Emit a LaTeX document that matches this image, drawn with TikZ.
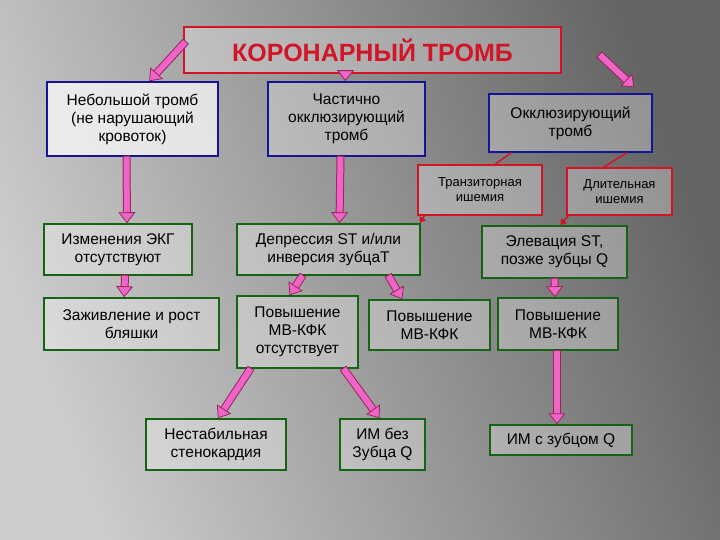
\documentclass[tikz,border=0pt]{standalone}
\usepackage{fontspec}
\setmainfont{Liberation Sans}
\usetikzlibrary{arrows.meta}
\definecolor{pinkc}{RGB}{240,100,200}
\definecolor{outl}{RGB}{150,40,90}
\definecolor{bluec}{RGB}{20,20,150}
\definecolor{greenc}{RGB}{20,100,20}
\definecolor{redc}{RGB}{210,20,40}
\newcommand\fatar[2]{%
\draw[outl,line width=8pt,shorten >=9pt,shorten <=-1pt] #1 -- #2;
\draw[pinkc,line width=6pt,shorten >=9pt] #1 -- #2;
\draw[pinkc,line width=0.1pt,-{Triangle[width=17pt,length=11pt,color=outl,fill=pinkc,line width=0.8pt]}] #1 -- #2;}
\begin{document}
\begin{tikzpicture}[x=1pt,y=-1pt,
 box/.style={fill=white,fill opacity=0.3,text opacity=1,align=center,inner sep=1pt,font=\fontsize{15.5}{18}\selectfont,line width=1.5pt},
 bbox/.style={box,draw=bluec},
 gbox/.style={box,draw=greenc},
 rbox/.style={box,draw=redc,font=\fontsize{13}{15}\selectfont}]
\shade[shading=axis,left color={rgb,255:red,205;green,205;blue,205},right color={rgb,255:red,100;green,100;blue,100},shading angle=110] (0,0) rectangle (720,540);
\useasboundingbox (0,0) rectangle (720,540);
\node[box,draw=redc,minimum width=377pt,minimum height=46pt,text=redc,font=\fontsize{25}{28}\selectfont\bfseries] (t) at (372.5,50) {КОРОНАРНЫЙ ТРОМБ};
\node[bbox,minimum width=171pt,minimum height=74pt,fill opacity=0.7] (sm) at (132.5,119) {Небольшой тромб\\(не нарушающий\\кровоток)};
\node[bbox,minimum width=157pt,minimum height=74pt] (pa) at (346.5,119) {Частично\\окклюзирующий\\тромб};
\node[bbox,minimum width=163pt,minimum height=58pt] (oc) at (570.5,123) {Окклюзирующий\\тромб};
\node[rbox,minimum width=124pt,minimum height=50pt] (tr) at (480,190) {Транзиторная\\ишемия};
\node[rbox,minimum width=105pt,minimum height=47pt] (dl) at (619.5,191.5) {Длительная\\ишемия};
\node[gbox,minimum width=148pt,minimum height=51pt] (ek) at (118,249.5) {Изменения ЭКГ\\отсутствуют};
\node[gbox,minimum width=183pt,minimum height=51pt] (de) at (328.5,249.5) {Депрессия ST и/или\\инверсия зубцаТ};
\node[gbox,minimum width=145pt,minimum height=52pt] (el) at (554.5,252) {Элевация ST,\\позже зубцы Q};
\node[gbox,minimum width=175pt,minimum height=52pt] (za) at (131.5,324) {Заживление и рост\\бляшки};
\node[gbox,minimum width=121pt,minimum height=72pt] (p1) at (297.5,332) {Повышение\\МВ-КФК\\отсутствует};
\node[gbox,minimum width=121pt,minimum height=50pt] (p2) at (429.5,325) {Повышение\\МВ-КФК};
\node[gbox,minimum width=120pt,minimum height=52pt] (p3) at (558,324) {Повышение\\МВ-КФК};
\node[gbox,minimum width=140pt,minimum height=51pt] (ns) at (216,444.5) {Нестабильная\\стенокардия};
\node[gbox,minimum width=85pt,minimum height=51pt] (ib) at (382.5,444.5) {ИМ без\\Зубца Q};
\node[gbox,minimum width=142pt,minimum height=30pt] (iq) at (561,440) {ИМ с зубцом Q};
% fat arrows
\fatar{([xshift=2pt,yshift=8pt]t.west)}{([xshift=103pt]sm.north west)}
\fatar{([xshift=-27pt]t.south)}{([xshift=-1pt]pa.north)}
\fatar{([xshift=38pt,yshift=-5pt]t.east)}{([xshift=146pt,yshift=6pt]oc.north west)}
\fatar{([xshift=-6pt]sm.south)}{([xshift=9pt]ek.north)}
\fatar{([xshift=-6pt]pa.south)}{([xshift=11pt]de.north)}
\fatar{([xshift=7pt]ek.south)}{([xshift=81pt]za.north west)}
\fatar{([xshift=-26pt]de.south)}{([xshift=-8pt]p1.north)}
\fatar{([xshift=60pt]de.south)}{([xshift=34pt]p2.north west)}
\fatar{(el.south)}{([xshift=-3pt]p3.north)}
\fatar{([xshift=-47pt]p1.south)}{([xshift=2pt]ns.north)}
\fatar{([xshift=46pt]p1.south)}{([xshift=-3pt]ib.north)}
\fatar{([xshift=-1pt]p3.south)}{([xshift=-4pt]iq.north)}
% red connectors
\draw[redc,line width=1.5pt] ([xshift=23pt]oc.south west) -- ([xshift=15pt]tr.north);
\draw[redc,line width=1.5pt] ([xshift=-26pt]oc.south east) -- ([xshift=-16pt]dl.north);
\draw[redc,line width=1.5pt,-{Triangle[width=7pt,length=6pt]}] ([xshift=7pt]tr.south west) -- ([xshift=-1pt]de.north east);
\draw[redc,line width=1.5pt,-{Triangle[width=7pt,length=6pt]}] ([xshift=2pt]dl.south west) -- ([xshift=79pt]el.north west);
\end{tikzpicture}
\end{document}
